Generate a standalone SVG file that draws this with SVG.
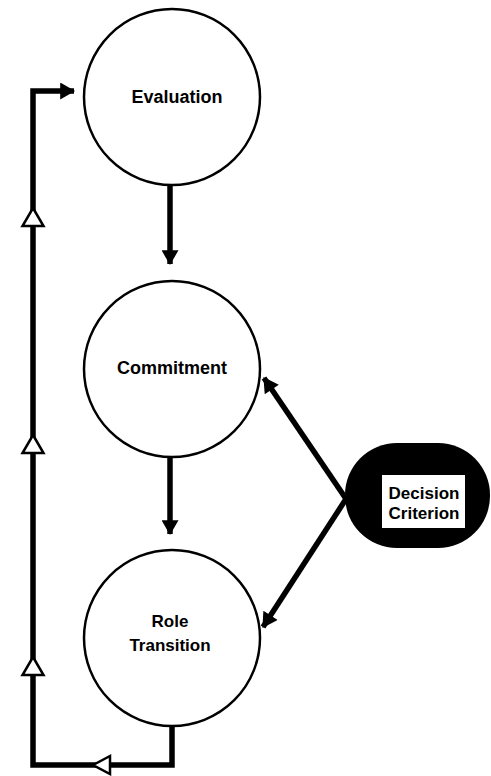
<svg xmlns="http://www.w3.org/2000/svg" width="491" height="776" viewBox="0 0 491 776">
<defs>
<style>
.node{fill:#fff;stroke:#000;stroke-width:2.5}
.lbl{font-family:"Liberation Sans",Arial,sans-serif;font-weight:bold;font-size:17px;fill:#000;text-anchor:middle}
.big{font-size:18px}
.edge{fill:none;stroke:#000;stroke-width:5.5}
.open{fill:#fff;stroke:#000;stroke-width:2.5;stroke-linejoin:miter}
</style>
<marker id="ah" markerUnits="userSpaceOnUse" markerWidth="17" markerHeight="17" viewBox="0 0 14 16" refX="13" refY="8" orient="auto">
<path d="M0,0 L14,8 L0,16 z" fill="#000"/>
</marker>
</defs>
<rect width="491" height="776" fill="#fff"/>
<g id="connectors">
<line class="edge" x1="170" y1="186" x2="170" y2="264" marker-end="url(#ah)"/>
<line class="edge" x1="170" y1="458" x2="170" y2="534" marker-end="url(#ah)"/>
<line class="edge" x1="357" y1="515" x2="264" y2="378" marker-end="url(#ah)"/>
<line class="edge" x1="357" y1="482" x2="263" y2="627" marker-end="url(#ah)"/>
<path class="edge" d="M172,726 L172,765 L33,765 L33,91 L74,91" marker-end="url(#ah)"/>
<polygon class="open" points="93,765 110,756 110,774"/>
<polygon class="open" points="33,208 43.5,226 22.5,226"/>
<polygon class="open" points="33,435 43.5,453 22.5,453"/>
<polygon class="open" points="33,657 43.5,675 22.5,675"/>
</g>
<g id="evaluation">
<circle class="node" cx="172" cy="97" r="88"/>
<text class="lbl big" x="177" y="103">Evaluation</text>
</g>
<g id="commitment">
<circle class="node" cx="172" cy="369" r="88"/>
<text class="lbl big" x="172" y="374">Commitment</text>
</g>
<g id="role-transition">
<circle class="node" cx="172" cy="638" r="88"/>
<text class="lbl" x="170" y="627">Role</text>
<text class="lbl" x="170" y="651">Transition</text>
</g>
<g id="decision-criterion">
<rect x="345" y="443" width="145" height="105" rx="52" ry="52" fill="#000"/>
<rect x="382" y="475" width="83" height="53" fill="#fff"/>
<text class="lbl" x="424" y="499">Decision</text>
<text class="lbl" x="424" y="519">Criterion</text>
</g>
</svg>
